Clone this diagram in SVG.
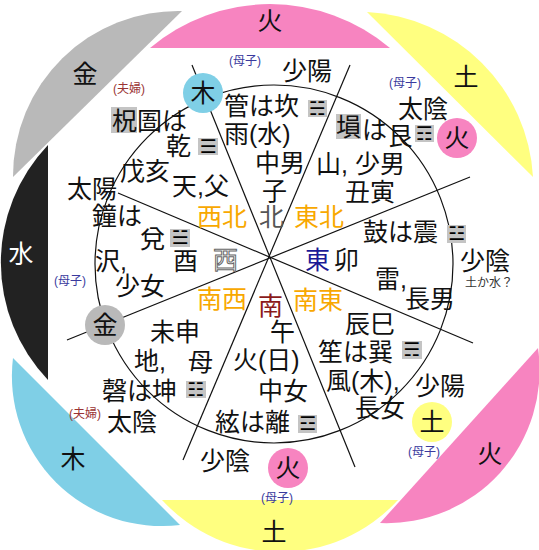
<svg xmlns="http://www.w3.org/2000/svg" width="539" height="550" viewBox="0 0 539 550">
<style>
text{font-family:"Liberation Sans","Noto Sans CJK JP","Noto Sans CJK SC",sans-serif;font-size:25px;fill:#111}
.c{text-anchor:middle}
.s{font-size:12px}
.pb{fill:#3a3a9e}
.fr{fill:#9a3333}
.or{fill:#f8a800}
.tri{font-family:"DejaVu Sans",sans-serif;font-size:19px;fill:#000;text-anchor:middle}
.tb{fill:#c4c4c4}
.ln{stroke:#111;stroke-width:1.2;fill:none}
.pink{fill:#f784c0}
.yel{fill:#ffff80}
.gry{fill:#b9b9b9}
.blu{fill:#7fcfe6}
</style>

<g id="outer-segments">
  <path id="seg-fire-top" class="pink" d="M150,48 A186,186 0 0 1 390,48 Z"/>
  <path id="seg-earth-tr" class="yel" d="M367,12 A175,175 0 0 1 533,177 Z"/>
  <path id="seg-metal-tl" class="gry" d="M13,177 A165,165 0 0 1 182,11 Z"/>
  <path id="seg-water-l" fill="#222" d="M48,380 A170,170 0 0 1 48,145 Z"/>
  <path id="seg-wood-bl" class="blu" d="M180,525 A150,150 0 0 1 13,358 Z"/>
  <path id="seg-earth-b" class="yel" d="M398,500 A160,160 0 0 1 162,500 Z"/>
  <path id="seg-fire-br" class="pink" d="M538,348 A153,153 0 0 1 380,523 Z"/>
  <text class="c" x="270" y="30">火</text>
  <text class="c" x="466" y="86">土</text>
  <text class="c" x="85" y="83">金</text>
  <text class="c" x="21" y="263" style="fill:#fff">水</text>
  <text class="c" x="73" y="468">木</text>
  <text class="c" x="274" y="541">土</text>
  <text class="c" x="490" y="463">火</text>
</g>

<g id="ring">
  <circle class="ln" cx="274" cy="264" r="179"/>
</g>

<g id="connectors">
  <line class="ln" x1="192" y1="65" x2="355" y2="467"/>
  <line class="ln" x1="350" y1="65" x2="183" y2="460"/>
  <line class="ln" x1="118" y1="193" x2="473" y2="343"/>
  <line class="ln" x1="67" y1="340" x2="470" y2="177"/>
</g>

<g id="center-labels">
  <text class="or" x="197" y="226">西北</text>
  <text x="259" y="226" style="fill:#555">北</text>
  <text class="or" x="294" y="226">東北</text>
  <text x="213" y="269" style="fill:#fff;stroke:#666;stroke-width:1">西</text>
  <text x="305" y="269" style="fill:#1a1a96">東</text>
  <text class="or" x="197" y="308">南西</text>
  <text x="258" y="315" style="fill:#8b1a1a">南</text>
  <text class="or" x="293" y="309">南東</text>
</g>

<g id="node-kan">
  <text class="s pb c" x="245" y="65">(母子)</text>
  <text x="282" y="80">少陽</text>
  <text x="224" y="115">管は坎</text>
  <rect class="tb" x="308" y="100" width="19" height="17"/>
  <text class="tri" x="317.5" y="115">☵</text>
  <text x="224" y="143">雨(水)</text>
  <text x="255" y="172">中男</text>
  <text x="262" y="200">子</text>
  <circle class="blu" cx="203" cy="93" r="20"/>
  <text class="c" x="203" y="102">木</text>
</g>

<g id="node-gon">
  <text class="s pb c" x="405" y="87">(母子)</text>
  <text x="398" y="118">太陰</text>
  <rect class="tb" x="336" y="114" width="25" height="25"/>
  <text x="336" y="136">塤</text>
  <text x="362" y="139">は</text>
  <text x="388" y="145">艮</text>
  <rect class="tb" x="415" y="125" width="19" height="17"/>
  <text class="tri" x="424.5" y="140">☶</text>
  <circle class="pink" cx="457" cy="138" r="20"/>
  <text class="c" x="457" y="147">火</text>
  <text x="316" y="173">山, 少男</text>
  <text x="345" y="201">丑寅</text>
</g>

<g id="node-shin">
  <text x="363" y="241">鼓は震</text>
  <rect class="tb" x="447" y="225" width="19" height="18"/>
  <text class="tri" x="456.5" y="240">☳</text>
  <text x="334" y="269">卯</text>
  <text x="460" y="270">少陰</text>
  <text class="s" x="465" y="287" style="fill:#333">土か水？</text>
  <text x="375" y="288">雷,</text>
  <text x="405" y="308">長男</text>
</g>

<g id="node-son">
  <text x="345" y="333">辰巳</text>
  <text x="318" y="361">笙は巽</text>
  <rect class="tb" x="402" y="341" width="20" height="18"/>
  <text class="tri" x="412" y="356">☴</text>
  <text x="326" y="390">風(木),</text>
  <text x="415" y="395">少陽</text>
  <text x="355" y="417">長女</text>
  <circle class="yel" cx="432" cy="422" r="20"/>
  <text class="c" x="432" y="431">土</text>
  <text class="s pb c" x="424" y="456">(母子)</text>
</g>

<g id="node-ri">
  <text x="270" y="341">午</text>
  <text x="233" y="369">火(日)</text>
  <text x="258" y="400">中女</text>
  <text x="215" y="431">絃は離</text>
  <rect class="tb" x="298" y="415" width="19" height="18"/>
  <text class="tri" x="307.5" y="430">☲</text>
  <text x="200" y="470">少陰</text>
  <circle class="pink" cx="288" cy="468" r="20"/>
  <text class="c" x="288" y="477">火</text>
  <text class="s pb c" x="277" y="502">(母子)</text>
</g>

<g id="node-kon">
  <text x="150" y="341">未申</text>
  <text x="134" y="370">地,</text>
  <text x="188" y="371">母</text>
  <text x="102" y="400">磬は坤</text>
  <rect class="tb" x="186" y="381" width="20" height="17"/>
  <text class="tri" x="196" y="396">☷</text>
  <text x="107" y="431">太陰</text>
  <text class="s fr c" x="85" y="418">(夫婦)</text>
</g>

<g id="node-da">
  <text x="67" y="198">太陽</text>
  <text x="92" y="225">鐘は</text>
  <text x="140" y="248">兌</text>
  <rect class="tb" x="170" y="229" width="20" height="18"/>
  <text class="tri" x="180" y="244">☱</text>
  <text x="173" y="270">酉</text>
  <text x="95" y="270">沢,</text>
  <text x="115" y="295">少女</text>
  <text class="s pb c" x="70" y="285">(母子)</text>
  <circle class="gry" cx="105" cy="325" r="20"/>
  <text class="c" x="105" y="334">金</text>
</g>

<g id="node-ken">
  <text class="s fr c" x="129" y="93">(夫婦)</text>
  <rect class="tb" x="111" y="107" width="26" height="26"/>
  <text x="112" y="130">柷圄は</text>
  <text x="166" y="155">乾</text>
  <rect class="tb" x="198" y="138" width="20" height="17"/>
  <text class="tri" x="208" y="153">☰</text>
  <text x="120" y="180">戊亥</text>
  <text x="172" y="195">天,父</text>
</g>
</svg>
